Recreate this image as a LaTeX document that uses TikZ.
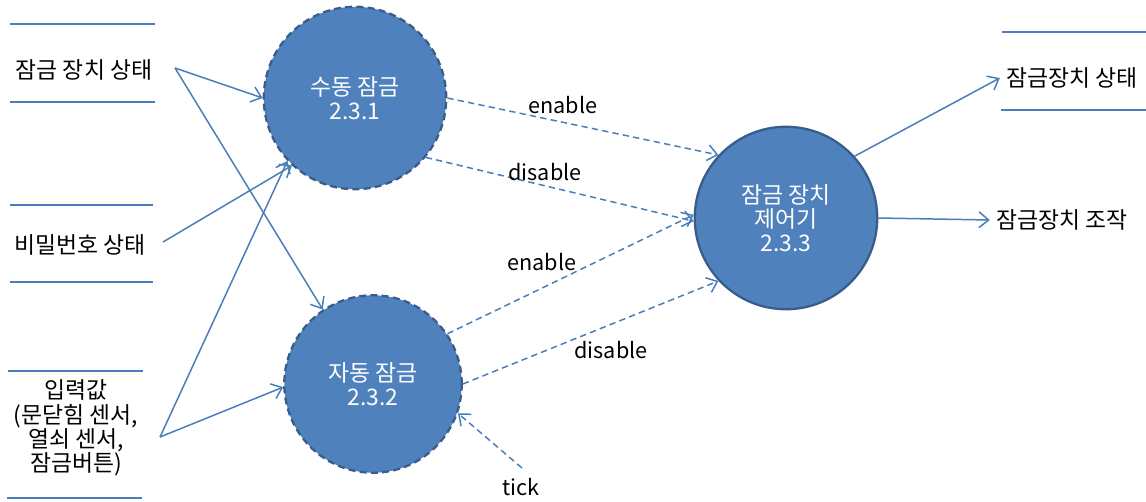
\documentclass[tikz,border=0pt]{standalone}
\usepackage{fontspec}
\setmainfont{Noto Sans CJK KR}
\usetikzlibrary{arrows.meta}
\usetikzlibrary{positioning}
\definecolor{procfill}{HTML}{4F81BD}
\definecolor{procline}{HTML}{385D8A}
\definecolor{flowline}{HTML}{4A7EBB}
\tikzset{every picture/.style={x=0.02cm,y=-0.02cm,line width=0.85pt,font=\fontsize{13}{13.8}\selectfont},
proc/.style={circle,fill=procfill,draw=procline,line width=1.3pt,minimum size=3.65cm,text=white,align=center,inner sep=0pt},
procdash/.style={proc,dash pattern=on 4pt off 2.4pt},
flow/.style={draw=flowline,-{Straight Barb[length=5.5pt,width=9pt]}},
ctrlflow/.style={flow,dash pattern=on 3.6pt off 2.4pt},
storeline/.style={draw=flowline,line width=1pt},
lbl/.style={inner sep=1pt,font=\fontsize{12.3}{14}\selectfont}}
\begin{document}
\begin{tikzpicture}
\useasboundingbox (0,0) rectangle (1146,501);
% data stores
\foreach \ya/\xa/\xb in {24/10/155,102/10/155,205/10/153,282/10/153,371/8/143,498/7/142,32/1002/1146,110/1001/1146}{
\draw[storeline] (\xa,\ya) -- (\xb,\ya);
}
\node (lockstate) at (84,70) {잠금 장치 상태};
\node (pwstate) at (80,245) {비밀번호 상태};
\node (input) at (76,428) [align=center] {입력값\\(문닫힘 센서,\\열쇠 센서,\\잠금버튼)};
\node (outstate) at (1072,78) {잠금장치 상태};
\node (outop) at (1062,220) {잠금장치 조작};
% processes
\node (manual) at (355,98) [procdash] {수동 잠금\\2.3.1};
\node (auto) at (373,384) [procdash,minimum size=3.55cm] {자동 잠금\\2.3.2};
\node (ctrl) at (786,218) [proc] {잠금 장치\\제어기\\2.3.3};
\coordinate (ls) at (175,68);
\coordinate (ps) at (163,242);
\coordinate (is) at (160,437);
\coordinate (tk) at (522,468);
% flows
\draw[flow] (ls) -- (manual.180);
\draw[flow] (ls) -- (auto.124);
\draw[flow] (ps) -- (manual.227);
\draw[flow] (is) -- (manual.223);
\draw[flow] (is) -- (auto.182);
\draw[ctrlflow] (manual.0) -- (ctrl.137);
\draw[ctrlflow] (manual.320) -- (ctrl.182);
\draw[ctrlflow] (auto.34) -- (ctrl.178);
\draw[ctrlflow] (auto.0) -- (ctrl.223);
\draw[ctrlflow] (tk) -- (auto.341);
\draw[flow] (ctrl.42) -- (outstate.west);
\draw[flow] (ctrl.0) -- (outop.west);
% labels
\node (en1) at (563,105) [lbl] {enable};
\node (dis1) at (545,172) [lbl] {disable};
\node (en2) at (542,262) [lbl] {enable};
\node (dis2) at (611,350) [lbl] {disable};
\node (tick) at (521,487) [lbl] {tick};
\end{tikzpicture}
\end{document}
